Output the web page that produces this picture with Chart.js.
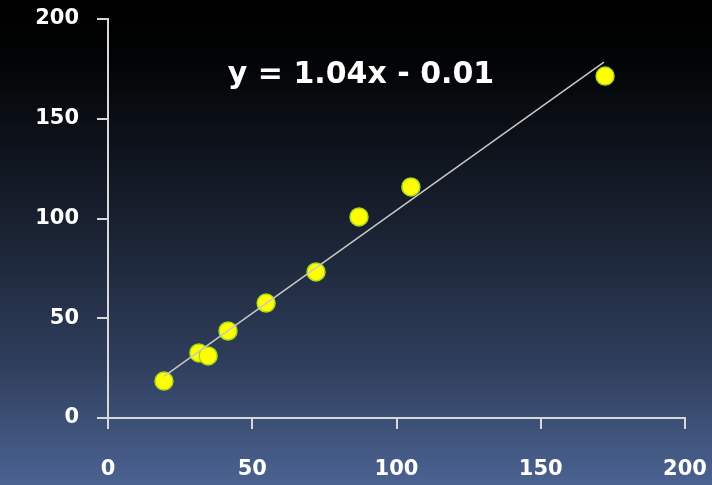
<!DOCTYPE html>
<html lang="en">
<head>
    <meta charset="UTF-8">
    <title>Scatter with trend line</title>
    <style>
        html, body { margin: 0; padding: 0; background: #000; }
        #wrap { width: 712px; height: 485px; }
    </style>
</head>
<body>
    <div id="wrap">
        <canvas id="scatter" width="712" height="485"></canvas>
    </div>

    <script src="https://cdn.jsdelivr.net/npm/chart.js@4/dist/chart.umd.min.js"></script>
    <script>
        // Measured points
        var pointsX = [19.4, 31.5, 34.7, 41.6, 54.8, 72.1, 87.0, 105.0, 172.3];
        var pointsY = [18.5, 32.6, 31.1, 43.6, 57.6, 73.2, 100.8, 115.8, 171.4];

        // Trend line ends
        var trendX = [19.4, 171.9];
        var trendY = [20.9, 178.4];

        var tickValues = [0, 50, 100, 150, 200];
        var equation = 'y = 1.04x - 0.01';

        var font = 'DejaVu Sans';

        var scatterData = pointsX.map(function(x, i) { return {x: x, y: pointsY[i]}; });
        var trendData = trendX.map(function(x, i) { return {x: x, y: trendY[i]}; });

        // Gradient background + equation label
        var slidePlugin = {
            id: 'slide',
            beforeDraw: function(chart) {
                var ctx = chart.ctx;
                var g = ctx.createLinearGradient(0, 0, 0, chart.height);
                g.addColorStop(0, '#000000');
                g.addColorStop(0.12, '#020304');
                g.addColorStop(0.45, '#18202f');
                g.addColorStop(0.75, '#2f3e5c');
                g.addColorStop(1, '#4b6392');
                ctx.save();
                ctx.fillStyle = g;
                ctx.fillRect(0, 0, chart.width, chart.height);
                ctx.restore();
            },
            afterDraw: function(chart) {
                var ctx = chart.ctx;
                ctx.save();
                ctx.font = 'bold 30px "' + font + '"';
                ctx.fillStyle = '#ffffff';
                ctx.textAlign = 'center';
                ctx.textBaseline = 'middle';
                ctx.fillText(equation, 361, 75);
                ctx.restore();
            }
        };

        var axisStyle = function(pad) {
            return {
                type: 'linear',
                min: 0,
                max: 200,
                afterBuildTicks: function(scale) {
                    scale.ticks = tickValues.map(function(v) { return {value: v}; });
                },
                border: { display: true, color: '#d8d8d8', width: 2 },
                grid: {
                    drawOnChartArea: false,
                    drawTicks: true,
                    tickLength: 11,
                    color: '#d8d8d8',
                    lineWidth: 2
                },
                ticks: {
                    color: '#ffffff',
                    padding: pad,
                    maxRotation: 0,
                    font: { family: font, weight: 'bold', size: 21 }
                }
            };
        };

        var xAxis = axisStyle(28);
        xAxis.afterFit = function(scale) {
            scale.height = 67;
            scale.paddingLeft = 0;
            scale.paddingRight = 0;
        };
        var yAxis = axisStyle(18);
        yAxis.afterFit = function(scale) {
            scale.width = 108;
            scale.paddingTop = 0;
            scale.paddingBottom = 0;
        };

        var ctx = document.getElementById('scatter');
        var myChart = new Chart(ctx, {
            type: 'scatter',
            data: {
                datasets: [{
                    label: 'Trend',
                    type: 'line',
                    data: trendData,
                    borderColor: '#c8c8c8',
                    borderWidth: 1.5,
                    pointRadius: 0,
                    fill: false
                }, {
                    label: 'Data',
                    data: scatterData,
                    backgroundColor: '#ffff00',
                    borderColor: '#a8d820',
                    borderWidth: 1.5,
                    pointRadius: 9
                }]
            },
            options: {
                responsive: false,
                animation: false,
                layout: { padding: { top: 19, right: 27, left: 0, bottom: 0 } },
                plugins: {
                    legend: { display: false },
                    tooltip: { enabled: false }
                },
                scales: { x: xAxis, y: yAxis }
            },
            plugins: [slidePlugin]
        });
    </script>
</body>
</html>
